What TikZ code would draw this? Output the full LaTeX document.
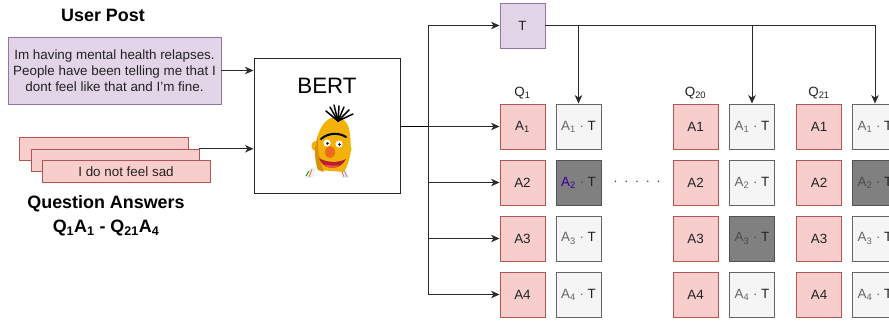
\documentclass[tikz,border=0pt]{standalone}
\usepackage{fontspec}
\setmainfont{Liberation Sans}
\usetikzlibrary{arrows.meta}
\definecolor{pfill}{HTML}{E1D5E7}
\definecolor{pdraw}{HTML}{9673A6}
\definecolor{rfill}{HTML}{F8CECC}
\definecolor{rdraw}{HTML}{B85450}
\definecolor{gfill}{HTML}{F5F5F5}
\definecolor{gdraw}{HTML}{666666}
\definecolor{dfill}{HTML}{808080}
\definecolor{dtext}{HTML}{4A4A4A}
\definecolor{ln}{HTML}{2A2A2A}
\definecolor{bluetxt}{HTML}{330099}
\definecolor{txt}{HTML}{222222}
\definecolor{bertyel}{HTML}{F2B20A}
\definecolor{bertdk}{HTML}{D98F06}
\definecolor{bertnose}{HTML}{F06A1D}
\definecolor{bertmouth}{HTML}{B81E2A}
\newcommand\atlbl[1]{A\textsubscript{#1} · \textcolor{txt}{T}}
\tikzset{
  base/.style={font=\fontsize{13.4}{16}\selectfont, inner sep=0pt, text=txt},
  titlelbl/.style={font=\bfseries\fontsize{17.9}{20}\selectfont, inner sep=0pt, text=black},
  sq/.style={base, minimum width=45pt, minimum height=45pt, line width=0.9pt},
  abox/.style={sq, draw=rdraw, fill=rfill},
  tbox/.style={sq, draw=gdraw, fill=gfill, text=gdraw},
  dbox/.style={sq, draw=gdraw!80!black, fill=dfill, text=dtext},
  pbox/.style={base, draw=pdraw, fill=pfill, line width=0.9pt},
  qbox/.style={base, draw=rdraw, fill=rfill, line width=0.9pt, minimum height=22.5pt},
  arr/.style={draw=ln, line width=1pt, -{Stealth[length=8.5pt,width=7.5pt,inset=2.5pt]}},
}
\begin{document}
\begin{tikzpicture}[x=1pt,y=-1pt]
\useasboundingbox (0,0) rectangle (889,323);

% left side
\node[titlelbl] (uptitle) at (103,15) {User Post};
\node[pbox, minimum width=213pt, minimum height=67pt, align=center] (post) at (114.5,70.5)
  {Im having mental health relapses.\\People have been telling me that I\\dont feel like that and I'm fine.};

\node[qbox, minimum width=169pt] (qa1) at (103.5,149) {};
\node[qbox, minimum width=168pt] (qa2) at (115,160.5) {};
\node[qbox, minimum width=168pt] (qa3) at (126,171.5) {I do not feel sad};
\node[titlelbl] (qatitle) at (106,204) {Question Answers};
\node[titlelbl] (qarange) at (106,228) {Q\textsubscript{1}A\textsubscript{1} - Q\textsubscript{21}A\textsubscript{4}};

% BERT
\node[draw=black!85, line width=1pt, minimum width=146pt, minimum height=135pt, inner sep=0pt] (bert) at (327,126.5) {};
\node[inner sep=0pt, font=\fontsize{22.3}{24}\selectfont] (bertlbl) at (327,86) {BERT};
\begin{scope}
  % shirt
  \fill[gray!12] (304,178) -- (308,170) .. controls (318,164) and (335,163) .. (344,168) -- (350,178) -- cycle;
  \fill[white] (313,178) -- (316,168) .. controls (324,166) and (334,166) .. (340,169) -- (342,178) -- cycle;
  \draw[green!55!black, line width=0.7pt] (306,176) -- (309,171);
  \draw[orange!80!red, line width=0.7pt] (309,177) -- (312,169);
  \draw[blue!55, line width=0.7pt] (344,170) -- (347,177);
  \draw[orange!80!red, line width=0.7pt] (341,169) -- (344,177);
  % ears
  \fill[bertyel] (315,146) ellipse (3.5pt and 5pt);
  \fill[bertyel] (348,149) ellipse (3.5pt and 5pt);
  % head
  \fill[bertyel] (318,170) .. controls (312,150) and (317,124) .. (331,118)
     .. controls (342,114) and (350,123) .. (350,136)
     .. controls (352,150) and (350,162) .. (344,172) -- cycle;
  \fill[bertdk] (318,170) .. controls (314,158) and (314,146) .. (318,136)
     .. controls (317,150) and (320,162) .. (324,172) -- cycle;
  % hair
  \foreach \tx/\ty in {326/111, 330/107, 334/105, 339/106, 344/107, 349/110, 353/114} {
    \draw[black, line width=1.5pt, line cap=round] (338,121) -- (\tx,\ty);
  }
  % eyebrow
  \draw[black, line width=2pt, line cap=round] (321,139) .. controls (328,133) and (338,132) .. (346,137);
  % eyes
  \fill[white] (327,143) circle (3.6pt);
  \fill[white] (339,144) circle (3.6pt);
  \fill[black] (327.5,143.5) circle (1.4pt);
  \fill[black] (339.5,144.5) circle (1.4pt);
  % mouth
  \fill[bertmouth] (319,158) .. controls (323,171) and (340,171) .. (346,159)
     .. controls (338,163) and (327,163) .. cycle;
  \fill[red!70!white] (324,164) .. controls (328,169) and (335,169) .. (339,165) .. controls (334,166) and (329,166) .. cycle;
  % nose
  \fill[bertnose] (330,152) ellipse (5pt and 6pt);
\end{scope}

% T node
\node[sq, draw=pdraw, fill=pfill] (T) at (522.5,25.5) {T};

% question labels
\node[base] (q1) at (522.5,93) {Q\textsubscript{1}};
\node[base] (q20) at (695.5,93) {Q\textsubscript{20}};
\node[base] (q21) at (819,93) {Q\textsubscript{21}};

% Q1 column
\node[abox] (a11) at (522.5,126.5) {A\textsubscript{1}};
\node[abox] (a12) at (522.5,182.5) {A2};
\node[abox] (a13) at (522.5,238.5) {A3};
\node[abox] (a14) at (522.5,294.5) {A4};
\node[tbox] (t11) at (578.5,126.5) {\atlbl{1}};
\node[dbox] (t12) at (578.5,182.5) {\textcolor{bluetxt}{A\textsubscript{2}} · \textcolor{txt}{T}};
\node[tbox] (t13) at (578.5,238.5) {\atlbl{3}};
\node[tbox] (t14) at (578.5,294.5) {\atlbl{4}};

\node[base, text=gdraw!60!black] (dots) at (637,183) {·\hspace{6.3pt}·\hspace{6.3pt}·\hspace{6.3pt}·\hspace{6.3pt}·};

% Q20 column
\node[abox] (a201) at (695.5,126.5) {A1};
\node[abox] (a202) at (695.5,182.5) {A2};
\node[abox] (a203) at (695.5,238.5) {A3};
\node[abox] (a204) at (695.5,294.5) {A4};
\node[tbox] (t201) at (752,126.5) {\atlbl{1}};
\node[tbox] (t202) at (752,182.5) {\atlbl{2}};
\node[dbox] (t203) at (752,238.5) {\atlbl{3}};
\node[tbox] (t204) at (752,294.5) {\atlbl{4}};

% Q21 column
\node[abox] (a211) at (819,126.5) {A1};
\node[abox] (a212) at (819,182.5) {A2};
\node[abox] (a213) at (819,238.5) {A3};
\node[abox] (a214) at (819,294.5) {A4};
\node[tbox] (t211) at (875,126.5) {\atlbl{1}};
\node[dbox] (t212) at (875,182.5) {\atlbl{2}};
\node[tbox] (t213) at (875,238.5) {\atlbl{3}};
\node[tbox] (t214) at (875,294.5) {\atlbl{4}};

% connectors into BERT
\draw[arr] (post.east) -- (post.east -| bert.west);
\draw[arr] (qa2.north east) -- (qa2.north east -| bert.west);

% BERT output branching
\coordinate (br) at (428,126.5);
\draw[black, line width=1.6pt] (bert.east) -- (br);
\draw[arr] (br) |- (T.west);
\draw[arr] (br) -- (a11.west);
\draw[arr] (br) |- (a12.west);
\draw[arr] (br) |- (a13.west);
\draw[arr] (br) |- (a14.west);

% T to products
\draw[arr] (T.east) -| (t211.north);
\draw[arr] (T.east -| t11.north) -- (t11.north);
\draw[arr] (T.east -| t201.north) -- (t201.north);
\end{tikzpicture}
\end{document}
